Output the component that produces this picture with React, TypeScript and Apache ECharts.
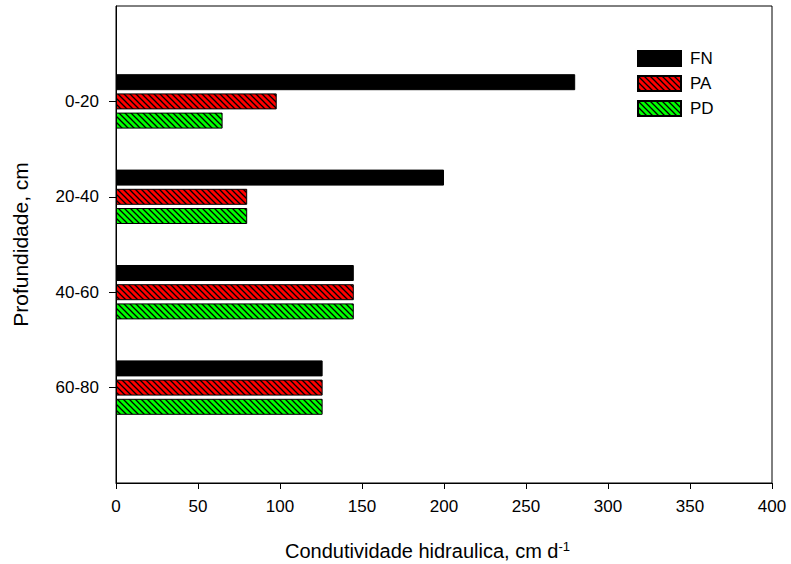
import React, { useEffect, useRef } from "react";
import * as echarts from "echarts";

const categories = ["0-20", "20-40", "40-60", "60-80"];
const seriesNames = ["FN", "PA", "PD"];
const fnValues = [280, 200, 145, 126];
const paValues = [98, 80, 145, 126];
const pdValues = [65, 80, 145, 126];
const xTicks = [0, 50, 100, 150, 200, 250, 300, 350, 400];

function makeHatch(bg: string) {
  const s = 6;
  const c = document.createElement("canvas");
  c.width = s;
  c.height = s;
  const ctx = c.getContext("2d")!;
  ctx.fillStyle = bg;
  ctx.fillRect(0, 0, s, s);
  ctx.strokeStyle = "#000";
  ctx.lineWidth = 1.3;
  ctx.beginPath();
  ctx.moveTo(-1, -1);
  ctx.lineTo(s + 1, s + 1);
  ctx.moveTo(-1, s - 1);
  ctx.lineTo(1, s + 1);
  ctx.moveTo(s - 1, -1);
  ctx.lineTo(s + 1, 1);
  ctx.stroke();
  return { image: c, repeat: "repeat" as const };
}

export default function App() {
  const ref = useRef<HTMLDivElement>(null);
  useEffect(() => {
    if (!ref.current) return;
    const chart = echarts.init(ref.current, null, { renderer: "svg" });
    const cats = ["", ...categories, ""];
    const pad = (a: number[]) => ["-", ...a, "-"];
    const font = "Arial, 'Liberation Sans', sans-serif";
    const fills: any[] = ["#000000", makeHatch("#ff0000"), makeHatch("#00ff00")];
    const data = [fnValues, paValues, pdValues];
    chart.setOption({
      animation: false,
      backgroundColor: "#fff",
      textStyle: { fontFamily: font },
      grid: {
        left: 116,
        right: 19,
        top: 6,
        bottom: 81,
        show: true,
        borderColor: "#000",
        borderWidth: 1,
        containLabel: false,
      },
      legend: {
        orient: "vertical",
        left: 637,
        top: 50,
        padding: 0,
        icon: "rect",
        itemWidth: 43,
        itemHeight: 15,
        itemGap: 8,
        textStyle: { fontSize: 17, color: "#000", fontFamily: font, padding: [0, 0, 0, 4] },
        data: seriesNames,
      },
      xAxis: {
        type: "value",
        min: 0,
        max: 400,
        interval: 50,
        axisLine: { show: true, lineStyle: { color: "#000", width: 1 } },
        axisTick: { show: true, length: 6, lineStyle: { color: "#000" } },
        axisLabel: {
          fontSize: 17,
          color: "#000",
          margin: 15,
          formatter: (v: number) => (xTicks.includes(v) ? String(v) : ""),
        },
        splitLine: { show: false },
      },
      yAxis: {
        type: "category",
        data: cats,
        inverse: true,
        boundaryGap: false,
        name: "Profundidade, cm",
        nameLocation: "middle",
        nameGap: 85,
        nameTextStyle: { fontSize: 21, color: "#000", fontFamily: font },
        axisLine: { show: true, lineStyle: { color: "#000", width: 1 } },
        axisTick: {
          show: true,
          length: 7,
          lineStyle: { color: "#000" },
          interval: (i: number, v: string) => v !== "",
        },
        axisLabel: { fontSize: 17, color: "#000", margin: 17, interval: 0 },
        splitLine: { show: false },
      },
      graphic: [
        {
          type: "text",
          left: 285,
          top: 540,
          style: {
            text: "Condutividade hidraulica, cm d{sup|-1}",
            fontSize: 20,
            lineHeight: 22,
            fontFamily: font,
            fill: "#000",
            rich: {
              sup: { fontSize: 13, lineHeight: 22, verticalAlign: "top", fontFamily: font, fill: "#000" },
            },
          },
        },
      ],
      series: seriesNames.map((name, i) => ({
        name,
        type: "bar",
        data: pad(data[i]),
        barWidth: 16,
        barGap: "20%",
        itemStyle: { color: fills[i], borderColor: "#000", borderWidth: 1 },
      })),
    });
    return () => chart.dispose();
  }, []);
  return (
    <div
      ref={ref}
      style={{ position: "absolute", left: 0, top: 0, width: 791, height: 564 }}
    />
  );
}
